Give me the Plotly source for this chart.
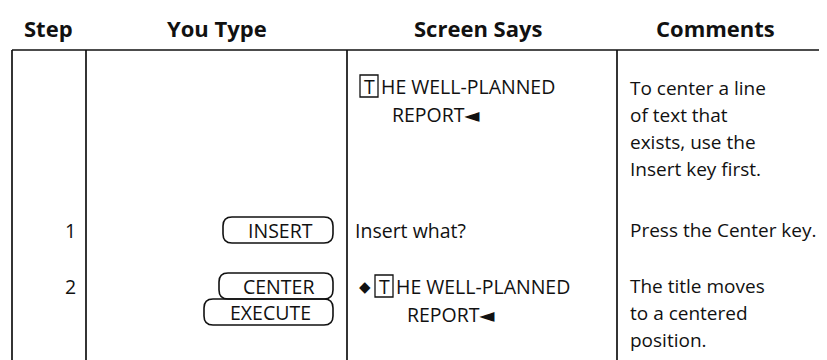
import plotly.graph_objects as go

# ---------------- data ----------------
headers = ["Step", "You Type", "Screen Says", "Comments"]
steps = ["", "1", "2"]
keys_typed = [[], ["INSERT"], ["CENTER", "EXECUTE"]]
screen_prefix = ["", "", "◆"]
screen_boxed = ["T", "", "T"]
screen_line1 = ["HE WELL-PLANNED", "Insert what?", "HE WELL-PLANNED"]
screen_line2 = ["REPORT◄", "", "REPORT◄"]
comments = [
    ["To center a line", "of text that", "exists, use the", "Insert key first."],
    ["Press the Center key."],
    ["The title moves", "to a centered", "position."],
]

# ---------------- layout geometry ----------------
W, H = 827, 360
col_x = [4, 78, 339, 609, W]
header_centers = [40, 209, 470, 707]
header_y = 20
header_line_y = 42
bottom_y = 358
row_y = [80, 222, 278]
screen_offset = [-2, 0, 0]
line_gap = 27
INK = "#111111"
BODY = dict(family="Open Sans, DejaVu Sans, sans-serif", size=19.5, color=INK)
COMMENT = dict(BODY, size=19)
HEAD = dict(family="Open Sans, DejaVu Sans, sans-serif", size=22, color=INK)

fig = go.Figure()
shapes = []
annotations = []


def ann(x, y, text, font, xanchor="left"):
    annotations.append(dict(x=x, y=y, xref="x", yref="y", text=text, showarrow=False,
                            xanchor=xanchor, yanchor="middle", font=font))


def line(x0, y0, x1, y1, w=1.7):
    shapes.append(dict(type="line", x0=x0, y0=y0, x1=x1, y1=y1, xref="x", yref="y",
                       line=dict(color=INK, width=w)))


def keycap(x0, x1, yc, h=26, r=9):
    y0, y1 = yc - h / 2, yc + h / 2
    p = (f"M {x0 + r},{y0} L {x1 - r},{y0} Q {x1},{y0} {x1},{y0 + r} "
         f"L {x1},{y1 - r} Q {x1},{y1} {x1 - r},{y1} L {x0 + r},{y1} "
         f"Q {x0},{y1} {x0},{y1 - r} L {x0},{y0 + r} Q {x0},{y0} {x0 + r},{y0} Z")
    shapes.append(dict(type="path", path=p, xref="x", yref="y",
                       line=dict(color=INK, width=1.6)))


# headers
for h, cx in zip(headers, header_centers):
    ann(cx, header_y, "<b>" + h + "</b>", HEAD, "center")

# grid
line(col_x[0], header_line_y, W, header_line_y)
line(col_x[0], bottom_y, W, bottom_y)
for x in col_x[:4]:
    line(x, header_line_y, x, bottom_y)

# key cap geometry per label
cap_left = {"INSERT": 215, "CENTER": 211, "EXECUTE": 196}
cap_right = 325

for i in range(len(steps)):
    y = row_y[i]
    # step number
    if steps[i]:
        ann(70, y, steps[i], BODY, "right")
    # keys typed
    for k, key in enumerate(keys_typed[i]):
        yc = y + k * 26
        keycap(cap_left[key], cap_right, yc)
        ann((cap_left[key] + cap_right) / 2 + 2, yc, key, BODY, "center")
    # screen says
    ys = y + screen_offset[i]
    x = 345
    if screen_prefix[i]:
        ann(x + 4, ys, screen_prefix[i], dict(BODY, size=15), "left")
        x = 367
    if screen_boxed[i]:
        bx0 = x if screen_prefix[i] else 352
        shapes.append(dict(type="rect", x0=bx0, x1=bx0 + 18, y0=ys - 11, y1=ys + 11,
                           xref="x", yref="y", line=dict(color=INK, width=1.3)))
        ann(bx0 + 9, ys, "T", BODY, "center")
        ann(bx0 + 19, ys, screen_line1[i], BODY, "left")
        if screen_line2[i]:
            ann(bx0 + 30, ys + line_gap + 1, screen_line2[i], BODY, "left")
    else:
        ann(x, ys, screen_line1[i], BODY, "left")
    # comments
    for j, c in enumerate(comments[i]):
        ann(620, y + j * line_gap, c, COMMENT, "left")

fig.update_layout(
    width=W, height=H,
    margin=dict(l=0, r=0, t=0, b=0),
    paper_bgcolor="white", plot_bgcolor="white",
    xaxis=dict(range=[0, W], visible=False, fixedrange=True),
    yaxis=dict(range=[H, 0], visible=False, fixedrange=True),
    shapes=shapes, annotations=annotations, showlegend=False,
)

fig.write_html("out.html")
